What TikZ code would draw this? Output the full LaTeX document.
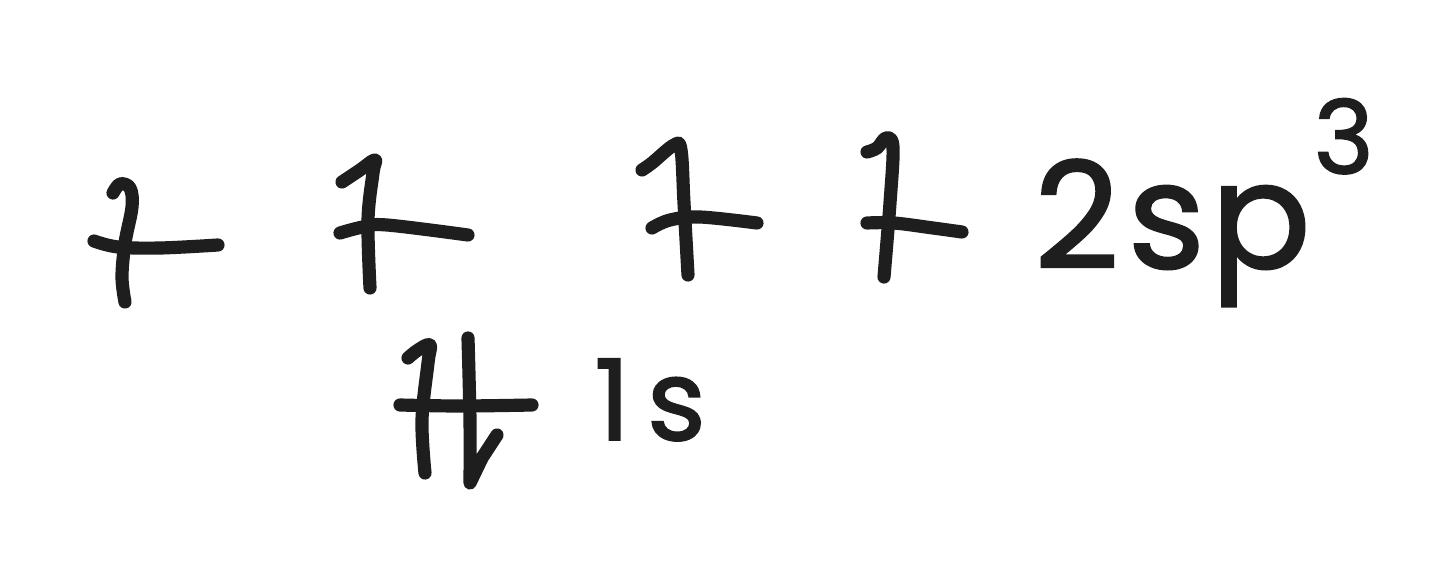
\documentclass[tikz,border=0pt]{standalone}
\usepackage{fontspec}
\setmainfont{Poppins}
\newfontfamily\handfont{Poppins}[FakeBold=1.6,BoldFont={Poppins}]
\definecolor{ink}{HTML}{1E1E1E}
\begin{document}
\begin{tikzpicture}[x=0.02cm,y=-0.02cm,
  pen/.style={draw=ink,line width=7.5pt,line cap=round,line join=round},
  hand/.style={text=ink,inner sep=0pt,font=\handfont\bfseries\fontsize{84}{84}\selectfont}]
\useasboundingbox[fill=white] (0,0) rectangle (1434,568);
% orbital 1
\draw[pen] plot[smooth,tension=0.6] coordinates {(94,241) (118,247) (160,248) (218,245)};
\draw[pen] plot[smooth,tension=0.6] coordinates {(113,193) (120,184) (130,188) (132,207) (125,243) (122,277) (125,302)};
% orbital 2
\draw[pen] plot[smooth,tension=0.6] coordinates {(340,233) (363,227) (387,225) (468,235)};
\draw[pen] plot[smooth,tension=0.6] coordinates {(342,182) (360,170) (375,160) (373,173) (368,220) (370,288)};
% orbital 3
\draw[pen] plot[smooth,tension=0.6] coordinates {(652,228) (670,220) (700,217) (757,223)};
\draw[pen] plot[smooth,tension=0.6] coordinates {(642,170) (652,163) (674,145) (681,150) (684,203) (688,275)};
% orbital 4
\draw[pen] plot[smooth,tension=0.6] coordinates {(867,223) (894,223) (933,228) (962,232)};
\draw[pen] plot[smooth,tension=0.6] coordinates {(867,152) (877,148) (886,138) (893,147) (890,203) (884,277)};
% 1s orbital
\draw[pen] plot[smooth,tension=0.6] coordinates {(400,405) (460,406) (532,405)};
\draw[pen] plot[smooth,tension=0.6] coordinates {(408,358) (418,350) (430,345) (428,363) (422,420) (425,473)};
\draw[pen] plot[smooth,tension=0.6] coordinates {(468,338) (470,420) (470,483)} -- (482,458) -- (497,435);
% labels
\node[hand,anchor=base west] (lab2sp) at (1034,268) {2\kern0.06em s\kern0.04em p\kern0.02em\raisebox{0.64em}{\fontsize{58}{58}\selectfont 3}};
\node[hand,anchor=base west,font=\handfont\bfseries\fontsize{64}{64}\selectfont] (lab1s) at (594,440) {1\kern0.15em s};
\end{tikzpicture}
\end{document}
